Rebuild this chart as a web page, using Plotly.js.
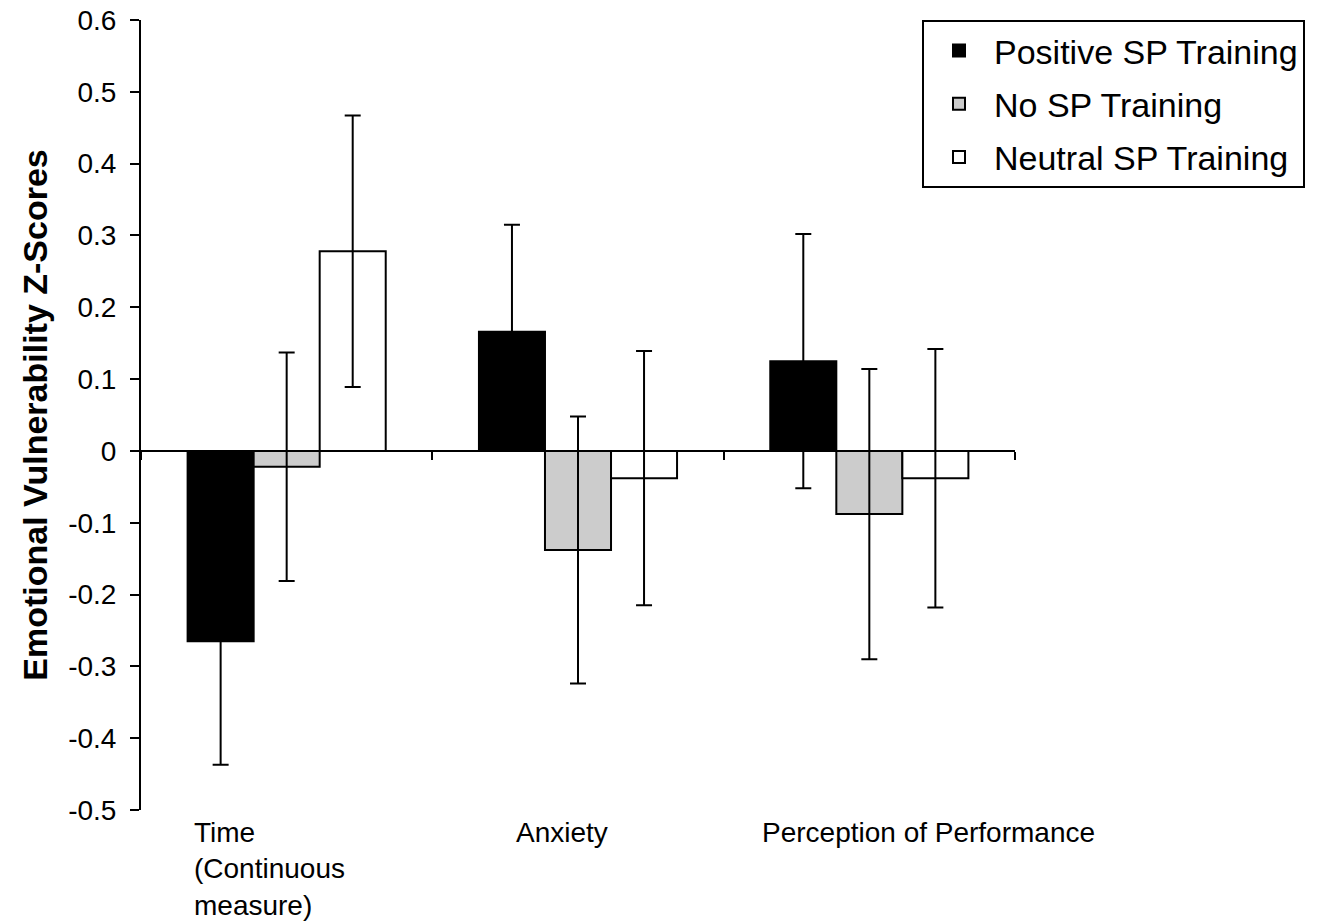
<!DOCTYPE html>
<html>
<head>
<meta charset="utf-8">
<script src="https://cdn.plot.ly/plotly-3.0.1.min.js"></script>
<style>html,body{margin:0;padding:0;background:#fff;}#chart{width:1331px;height:922px;}</style>
</head>
<body>
<div id="chart"></div>
<script>
// ---- data ----
const categories = ["Time (Continuous measure)", "Anxiety", "Perception of Performance"];
const categoryLabels = ["Time<br>(Continuous<br>measure)", "Anxiety", "Perception of Performance"];
const seriesNames = ["Positive SP Training", "No SP Training", "Neutral SP Training"];
const positiveValues = [-0.265, 0.166, 0.125];
const positiveErrors = [0.172, 0.149, 0.177];
const noValues = [-0.022, -0.138, -0.088];
const noErrors = [0.159, 0.186, 0.202];
const neutralValues = [0.278, -0.038, -0.038];
const neutralErrors = [0.189, 0.177, 0.180];
const yTickValues = [0.6, 0.5, 0.4, 0.3, 0.2, 0.1, 0, -0.1, -0.2, -0.3, -0.4, -0.5];
const yTickLabels = ["0.6", "0.5", "0.4", "0.3", "0.2", "0.1", "0", "-0.1", "-0.2", "-0.3", "-0.4", "-0.5"];

// ---- styling ----
const FONT = "Liberation Sans, Arial, Helvetica, sans-serif";
const fills = ["#000000", "#cccccc", "#ffffff"];
const valueSets = [positiveValues, noValues, neutralValues];
const errorSets = [positiveErrors, noErrors, neutralErrors];

const traces = seriesNames.map((name, i) => ({
  type: "bar",
  name: name,
  legendgroup: "g" + i,
  x: categories,
  y: valueSets[i],
  marker: { color: fills[i], line: { color: "#000000", width: 2 } },
  error_y: { type: "data", array: errorSets[i], visible: true, color: "#000000", thickness: 2, width: 8 }
}));

const yMin = -0.5, yMax = 0.6;
const labelOffsets = [-0.326, -0.22, -0.374];
const annotations = categoryLabels.map((t, i) => ({
  text: t,
  x: i + labelOffsets[i],
  xref: "x",
  y: 0,
  yref: "paper",
  xanchor: "left",
  yanchor: "top",
  align: "left",
  yshift: -5,
  showarrow: false,
  font: { family: FONT, size: 28, color: "#000" }
}));

const layout = {
  width: 1331,
  height: 922,
  margin: { l: 141, r: 316, t: 20, b: 112 },
  paper_bgcolor: "#ffffff",
  plot_bgcolor: "#ffffff",
  font: { family: FONT, color: "#000" },
  barmode: "group",
  bargap: 0.32,
  bargroupgap: 0,
  showlegend: true,
  legend: {
    x: (922 - 141) / 874,
    xanchor: "left",
    y: 1,
    yanchor: "top",
    bgcolor: "#ffffff",
    bordercolor: "#000000",
    borderwidth: 2,
    traceorder: "grouped",
    tracegroupgap: 6,
    itemwidth: 60,
    font: { family: FONT, size: 34, color: "#000" }
  },
  xaxis: {
    type: "category",
    range: [-0.5, categories.length - 0.5],
    anchor: "free",
    position: (0 - yMin) / (yMax - yMin),
    showline: true,
    linecolor: "#000",
    linewidth: 2,
    ticks: "outside",
    tickson: "boundaries",
    ticklen: 8,
    tickwidth: 2,
    tickcolor: "#000",
    showticklabels: false,
    showgrid: false,
    zeroline: false,
    fixedrange: true
  },
  yaxis: {
    range: [yMin, yMax],
    tickvals: yTickValues,
    ticktext: yTickLabels,
    ticks: "outside",
    ticklen: 9,
    tickwidth: 2,
    tickcolor: "#000",
    ticklabelstandoff: 8,
    showline: true,
    linecolor: "#000",
    linewidth: 2,
    showgrid: false,
    zeroline: false,
    tickfont: { family: FONT, size: 28, color: "#000" },
    title: {
      text: "<b>Emotional Vulnerability Z-Scores</b>",
      font: { family: FONT, size: 34, color: "#000" },
      standoff: 10
    }
  },
  annotations: annotations
};

Plotly.newPlot("chart", traces, layout, { staticPlot: true, displayModeBar: false });
</script>
</body>
</html>
